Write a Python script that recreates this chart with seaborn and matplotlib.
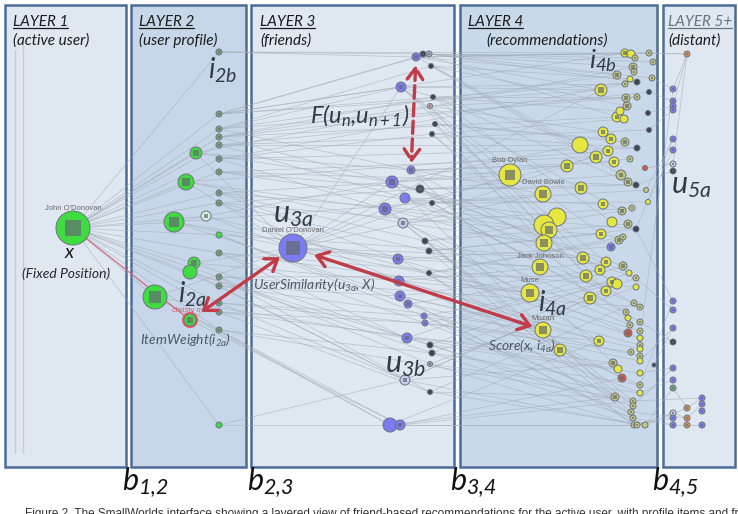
import numpy as np
import pandas as pd
import seaborn as sns
import matplotlib.pyplot as plt
from matplotlib.patches import Rectangle
from matplotlib.collections import LineCollection

# ---- layer boxes ----
layer_left = [5, 131, 251, 460, 663]
layer_right = [126, 246, 454, 657, 735]
layer_title = ['LAYER 1', 'LAYER 2', 'LAYER 3', 'LAYER 4', 'LAYER 5+']
layer_sub = ['(active user)', '(user profile)', '(friends)', '(recommendations)', '(distant)']
boundary_label = [r'$b_{\mathit{1{,}2}}$', r'$b_{\mathit{2{,}3}}$', r'$b_{\mathit{3{,}4}}$', r'$b_{\mathit{4{,}5}}$']

# ---- nodes (pixel space of the screenshot) ----
l1_x = [73]
l1_y = [228]
l1_r = [17]
l1_kind = 'G'
l1_img = '1'

l2_x = [219, 219, 219, 219, 219, 196, 219, 219, 186, 219, 219, 206, 174, 219, 219, 194, 190, 219, 219, 155, 219, 219, 190, 219, 219]
l2_y = [52, 114, 129, 137, 145, 153, 159, 172, 182, 193, 203, 216, 222, 235, 253, 263, 272, 277, 286, 297, 303, 312, 320, 330, 425]
l2_r = [3, 3, 3, 3, 3, 6, 3, 3, 8, 3, 3, 5, 10, 3, 3, 6, 7, 3, 3, 12, 3, 3, 6, 3, 3]
l2_kind = 'gggggGggGggWGGgGGggGggGgG'
l2_img = '1111111111111011011111110'

l3_x = [293, 416, 423, 429, 431, 401, 433, 430, 435, 432, 411, 392, 420, 405, 432, 385, 403, 425, 429, 398,
        429, 399, 400, 408, 424, 425, 407, 430, 432, 430, 405, 430, 390, 400]
l3_y = [248, 57, 54, 54, 66, 87, 97, 106, 124, 134, 170, 182, 189, 198, 203, 209, 223, 241, 251, 259,
        273, 281, 296, 304, 316, 323, 338, 345, 353, 364, 380, 392, 425, 425]
l3_r = [14, 4, 3, 3, 2.5, 5, 2.5, 2.5, 2.5, 2.5, 4, 6, 4, 5, 2.5, 6, 5, 3, 3, 5,
        2.5, 5, 5, 4, 3, 3, 5, 3, 3, 2.5, 5, 2.5, 7, 5]
l3_kind = 'BBDSDBDPDDBBDBDBLDDBDBBBBBBDDSLDBB'
l3_img = '1111010100111001100101111110011001'

l4_x = [510, 543, 557, 544, 549, 544, 540, 530, 543, 560, 567, 580, 596, 581, 601, 603, 608, 614, 603, 617,
        611, 620, 624, 627, 617, 626, 625, 637, 637, 625, 637, 630, 648, 625, 631, 635, 633, 634, 630, 649,
        653, 652, 649, 621, 628, 636, 646, 648, 632, 622, 612, 628, 636, 601, 611, 619, 623, 583, 606, 600,
        586, 612, 617, 623, 629, 636, 636, 606, 590, 634, 626, 628, 630, 628, 640, 640, 640, 640, 640, 640,
        640, 640, 599, 631, 613, 618, 622, 640, 640, 640, 615, 633, 633, 631, 633, 634, 637, 645, 654, 645,
        649]
l4_y = [175, 194, 217, 225, 230, 243, 267, 293, 330, 350, 166, 145, 157, 188, 90, 132, 151, 162, 204, 117,
        139, 111, 119, 106, 75, 98, 84, 82, 97, 142, 148, 159, 113, 53, 54, 58, 67, 72, 79, 53,
        62, 78, 92, 175, 182, 185, 190, 202, 208, 211, 222, 224, 229, 234, 247, 240, 237, 258, 262, 270,
        276, 282, 284, 266, 273, 278, 287, 291, 298, 303, 312, 318, 325, 333, 307, 322, 331, 338, 345, 349,
        356, 361, 341, 352, 363, 369, 378, 373, 385, 393, 397, 401, 406, 412, 418, 425, 425, 425, 365, 168,
        130]
l4_r = [11, 8, 9, 10, 8, 8, 8, 9, 8, 6, 6, 8, 6, 6, 6, 5, 5, 5, 5, 5,
        5, 4, 4, 4, 4, 4, 3, 3, 3, 4, 3, 3, 2.5, 4, 4, 3, 4, 3, 3, 3,
        3, 3, 2.5, 5, 4, 3, 2.5, 2.5, 3, 4, 5, 4, 3, 5, 4, 4, 3, 6, 5, 5,
        6, 5, 5, 4, 3, 3, 3, 5, 6, 3, 3, 3, 3, 4, 3, 3, 3, 3, 3, 3,
        3, 3, 5, 3, 4, 4, 4, 3, 3, 3, 4, 3, 3, 3, 3, 3, 3, 3, 2, 2.5,
        2.5]
l4_kind = ('YYYYYYYYYYYYYYYYYYYYYYY' 'QQQQDQQDQD' 'YYQQQYQQQD' 'QQDQYQQYQD' 'YBQQYYYYYY'
           'QYQYYYQQYQ' 'RQQQYQYQYY' 'QQYRYQYQQQ' 'QQQQQDRD')
l4_img = ('1100111111' '1011111111' '1001111011' '0101011101' '1101100011'
          '0101111111' '1101010111' '1011111010' '1011101010' '11111110000')

l5_x = [687, 673, 673, 673, 673, 673, 673, 673, 673, 673, 673, 673, 673, 673, 673, 673, 673, 673, 673,
        687, 687, 687, 702, 702, 702, 702]
l5_y = [54, 89, 101, 106, 110, 139, 150, 164, 171, 301, 310, 328, 342, 368, 380, 388, 413, 418, 425,
        408, 418, 425, 398, 404, 411, 425]
l5_r = [3] * 26
l5_kind = 'OBBBBBBLDBBBDBBgLBBOOOBBBB'
l5_img = '11111111111111111111111111'

# ---- links ----
user_links = list(range(len(l2_x)))      # active user -> every profile item
l2_links = [[1, 2], [5, 1, 3], [5, 10, 4], [6, 7, 11], [8, 13], [0, 10, 11], [9, 15], [12, 14],
            [0, 15, 16], [17, 19], [18, 21], [0, 20], [0, 11, 19, 22], [23, 24], [25, 26], [0, 21, 26],
            [27, 28, 30], [29, 31], [22, 30], [0, 32, 33, 26], [24, 30], [25, 31], [0, 33], [32, 28], [33, 30]]
l2_far = [(1, 33), (1, 14), (2, 24), (3, 19), (4, 11), (6, 26), (7, 12), (9, 0), (10, 43), (13, 57),
          (14, 7), (17, 60), (18, 8), (20, 82), (21, 84), (23, 90), (0, 39), (5, 36), (8, 16), (12, 1),
          (1, 27), (2, 28), (3, 42), (4, 100), (6, 30), (7, 45), (9, 52), (10, 56), (14, 66), (17, 74)]
l3_inner = [(0, 5), (0, 11), (0, 15), (0, 19), (0, 21)]
l3_links = [[0, 1, 6, 7, 8, 14, 57, 82], [33, 24, 14, 39, 11], [34, 36, 19, 40], [35, 27, 41],
            [38, 23, 12, 43], [14, 26, 16, 0, 53, 59], [25, 21, 50, 44], [28, 15, 49, 60],
            [29, 20, 58, 68], [22, 30, 61, 67], [0, 1, 10, 17, 62, 84], [3, 11, 31, 63, 90],
            [45, 13, 64, 69], [2, 18, 65, 74], [46, 47, 70, 75], [4, 12, 57, 82, 91],
            [5, 16, 48, 71, 92], [49, 51, 72, 93], [52, 53, 73, 94], [6, 54, 76, 86],
            [55, 56, 77, 95], [7, 58, 78, 88], [8, 59, 79, 96], [60, 80, 89], [61, 81, 90, 97],
            [62, 83, 91], [9, 63, 85, 92], [64, 87, 93], [65, 88, 94], [66, 89, 95],
            [67, 68, 84, 96], [69, 90, 97], [82, 90, 95], [86, 91, 96]]
l4_links = [(33, 0), (39, 0), (41, 1), (42, 2), (32, 3), (100, 4), (46, 5), (47, 6), (99, 7), (45, 8),
            (52, 9), (65, 10), (98, 11), (75, 12), (87, 13), (89, 14), (97, 15), (96, 16), (95, 17),
            (94, 18), (97, 19), (93, 20), (91, 22), (92, 13), (88, 9), (81, 11), (77, 1), (52, 5)]
l5_links = [(0, 1), (0, 3), (0, 7), (15, 19), (16, 20), (19, 22), (20, 23), (21, 25), (18, 21)]

node_labels = [(1, 0, "John O'Donovan"), (3, 0, "Daniel O'Donovan"), (4, 0, 'Bob Dylan'),
               (4, 1, 'David Bowie'), (4, 6, 'Jack Johnson'), (4, 7, 'Muse'), (4, 8, 'Mozart')]

kind_colors = {'G': '#3fdc3f', 'g': '#72a47c', 'W': '#d8efd8', 'B': '#7c7cf2', 'L': '#c8ccf0',
               'D': '#3d4455', 'S': '#a3a8b8', 'P': '#d8a8b8', 'Y': '#e5e640', 'Q': '#c4c67e',
               'R': '#d65a48', 'O': '#d98c55'}

# ---- table ----
layers = [(l1_x, l1_y, l1_r, l1_kind, l1_img), (l2_x, l2_y, l2_r, l2_kind, l2_img),
          (l3_x, l3_y, l3_r, l3_kind, l3_img), (l4_x, l4_y, l4_r, l4_kind, l4_img),
          (l5_x, l5_y, l5_r, l5_kind, l5_img)]
frames = []
for n, (xs, ys, rs, ks, im) in enumerate(layers):
    frames.append(pd.DataFrame({'x': xs, 'y': ys, 'r': rs, 'kind': list(ks),
                                'img': [c == '1' for c in im], 'layer': n + 1}))
nodes = pd.concat(frames, ignore_index=True)
nodes['area'] = (1.44 * nodes['r']) ** 2
nodes['iarea'] = (0.7 * nodes['r']) ** 2
pos = {n + 1: list(zip(l[0], l[1])) for n, l in enumerate(layers)}
rad = {n + 1: l[2] for n, l in enumerate(layers)}

segs = []
for j in user_links:
    segs.append([pos[1][0], pos[2][j]])
for i, tg in enumerate(l2_links):
    for j in tg:
        segs.append([pos[2][i], pos[3][j]])
for i, j in l2_far:
    segs.append([pos[2][i], pos[4][j]])
for i, j in l3_inner:
    segs.append([pos[3][i], pos[3][j]])
for i, tg in enumerate(l3_links):
    for j in tg:
        segs.append([pos[3][i], pos[4][j]])
for i, j in l4_links:
    segs.append([pos[4][i], pos[5][j]])
for i, j in l5_links:
    segs.append([pos[5][i], pos[5][j]])

# ---- figure ----
sns.set_theme(style='white')
plt.rcParams['font.family'] = ['Lato', 'DejaVu Sans']
plt.rcParams['mathtext.fontset'] = 'custom'
plt.rcParams['mathtext.it'] = 'Lato:italic'
plt.rcParams['mathtext.rm'] = 'Lato:italic'
plt.rcParams['mathtext.bf'] = 'Lato:bold:italic'

fig = plt.figure(figsize=(7.38, 5.14), dpi=100)
ax = fig.add_axes([0, 0, 1, 1])

box_fill = ['#dfe7f1', '#c7d6e8', '#dfe7f1', '#cad9ea', '#dfe7f1']
for n in range(5):
    ax.add_patch(Rectangle((layer_left[n], 5), layer_right[n] - layer_left[n], 462,
                           facecolor=box_fill[n], edgecolor='#4c6c98', lw=1.8, zorder=1))

# faint guide lines in layer 1
ax.vlines([15, 23], [50, 45], [453, 453], color='#c6cbd2', lw=1, zorder=1.5)

ax.add_collection(LineCollection(segs, colors='#a3abb8', linewidths=0.55, alpha=0.6, zorder=2))

# highlighted path user -> christy
christy = pos[2][22]
ax.plot([pos[1][0][0], christy[0]], [pos[1][0][1], christy[1]], color='#d86878', lw=0.8, zorder=2.5)

amin, amax = nodes['area'].min(), nodes['area'].max()
sns.scatterplot(data=nodes, x='x', y='y', hue='kind', palette=kind_colors, size='area',
                sizes=(amin, amax), size_norm=(amin, amax), edgecolor='#6d747e', linewidth=0.7,
                legend=False, ax=ax, zorder=4)
thumbs = nodes[nodes['img']]
bmin, bmax = thumbs['iarea'].min(), thumbs['iarea'].max()
sns.scatterplot(data=thumbs, x='x', y='y', size='iarea', sizes=(bmin, bmax), size_norm=(bmin, bmax),
                marker='s', color='#646a72', alpha=0.7, linewidth=0, legend=False, ax=ax, zorder=5)
ax.scatter([christy[0]], [christy[1]], s=(1.44 * l2_r[22] + 1.5) ** 2, facecolors='none',
           edgecolors='#e04a5a', linewidths=1.2, zorder=6)
ax.set_xlim(0, 738)
ax.set_ylim(514, 0)
ax.axis('off')

# node names
for layer, idx, name in node_labels:
    x, y = pos[layer][idx]
    ax.text(x, y - rad[layer][idx] - 3, name, ha='center', va='center', fontsize=5.5,
            family='Liberation Sans', color='#6a6a6a', zorder=7)
ax.text(christy[0], christy[1] - l2_r[22] - 3, 'christy mo', ha='center', va='center', fontsize=5.5,
        family='Liberation Sans', color='#e06070', zorder=7)

# layer titles
title_x = [13, 139, 260, 468, 668]
sub_x = [13, 139, 260, 486, 668]
titles = []
for n in range(5):
    titles.append(ax.text(title_x[n], 26, layer_title[n], fontsize=11, style='italic',
                          color='#6a7480' if n == 4 else '#1c1c1c', va='baseline', zorder=8))
    ax.text(sub_x[n], 45, layer_sub[n], fontsize=11, style='italic', color='#1c1c1c',
            va='baseline', zorder=8)

# boundary labels
bx = [122, 247, 450, 652]
for n in range(4):
    ax.text(bx[n], 483, boundary_label[n], fontsize=22, color='#111111', va='center', zorder=8)

# formula annotations
big = '#323a46'
ax.text(208, 70, r'$i_{\mathit{2b}}$', fontsize=20, color=big, va='center', zorder=8)
ax.text(310, 116, r'$F(u_n{,}u_{n+1})$', fontsize=17, color=big, va='center', zorder=8)
ax.text(273, 215, r'$u_{\mathit{3a}}$', fontsize=22, color=big, va='center', zorder=8)
ax.text(178, 294, r'$i_{\mathit{2a}}$', fontsize=20, color=big, va='center', zorder=8)
ax.text(385, 365, r'$u_{\mathit{3b}}$', fontsize=22, color=big, va='center', zorder=8)
ax.text(589, 61, r'$i_{\mathit{4b}}$', fontsize=19, color=big, va='center', zorder=8)
ax.text(671, 186, r'$u_{\mathit{5a}}$', fontsize=22, color=big, va='center', zorder=8)
ax.text(538, 303, r'$i_{\mathit{4a}}$', fontsize=20, color=big, va='center', zorder=8)
small = '#4e5866'
ax.text(253, 285, r'UserSimilarity($u_{\mathit{3a}}$, X)', fontsize=10, style='italic', color=small,
        va='center', zorder=8)
ax.text(140, 340, r'ItemWeight($i_{\mathit{2a}}$)', fontsize=10, style='italic', color=small,
        va='center', zorder=8)
ax.text(488, 346, r'Score(x, $i_{\mathit{4a}}$)', fontsize=10, style='italic', color=small,
        va='center', zorder=8)
ax.text(69, 252, 'x', fontsize=14, style='italic', color='#1c1c1c', ha='center', va='center', zorder=8)
ax.text(22, 274, '(Fixed Position)', fontsize=10, style='italic', color='#262626',
        va='center', zorder=8)

# red arrows
red = '#c23b48'
daniel = pos[3][0]
mozart = pos[4][8]
ax.annotate('', xy=daniel, xytext=christy, zorder=9,
            arrowprops=dict(arrowstyle='<->,head_length=0.5,head_width=0.35', color=red, lw=2.4,
                            shrinkA=10, shrinkB=11.5, mutation_scale=16))
ax.annotate('', xy=mozart, xytext=daniel, zorder=9,
            arrowprops=dict(arrowstyle='<->,head_length=0.5,head_width=0.35', color=red, lw=2.4,
                            shrinkA=16, shrinkB=8, mutation_scale=16))
ax.annotate('', xy=pos[3][10], xytext=pos[3][1], zorder=9,
            arrowprops=dict(arrowstyle='<->,head_length=0.5,head_width=0.35', color=red, lw=2.4,
                            ls='--', shrinkA=6, shrinkB=5, mutation_scale=16))

# caption line, only its top shows in the screenshot
ax.text(25, 508, 'Figure 2. The SmallWorlds interface showing a layered view of friend-based '
        'recommendations for the active user, with profile items and friends of friends.',
        fontsize=8.5, family='Liberation Sans', color='#333333', va='top', zorder=8, clip_on=True)

# underline titles
fig.canvas.draw()
inv = ax.transData.inverted()
for t in titles:
    bb = t.get_window_extent()
    (x0, yb), (x1, _) = inv.transform([[bb.x0, bb.y0], [bb.x1, bb.y1]])
    ax.plot([x0, x1], [yb - 1.5, yb - 1.5], color=t.get_color(), lw=0.9, zorder=8)

fig.savefig('out.png', dpi=100)
